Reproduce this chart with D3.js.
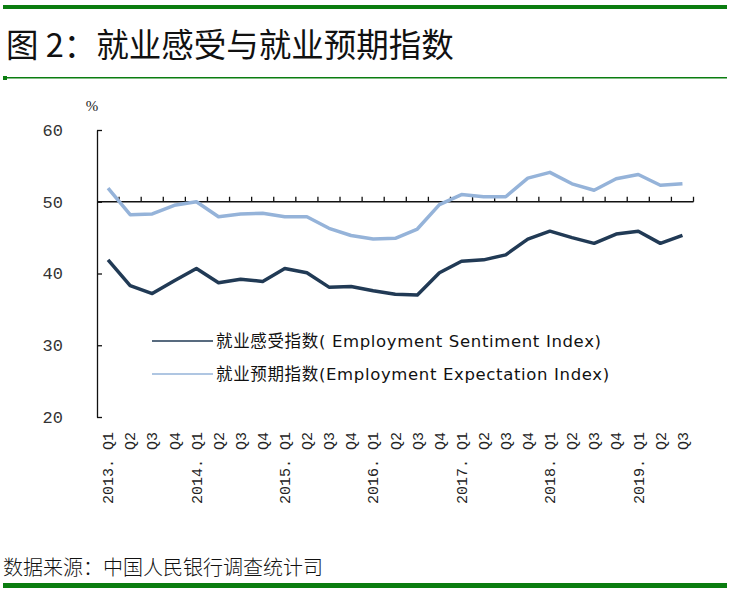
<!DOCTYPE html>
<html>
<head>
<meta charset="utf-8">
<script src="https://cdn.jsdelivr.net/npm/d3@7/dist/d3.min.js"></script>
<style>
  body { margin: 0; background: #fff; }
</style>
</head>
<body>
<svg id="chart" width="729" height="600"></svg>
<script>
// quarters 2013Q1 .. 2019Q3
const quarters = ['2013. Q1', 'Q2', 'Q3', 'Q4',
    '2014. Q1', 'Q2', 'Q3', 'Q4',
    '2015. Q1', 'Q2', 'Q3', 'Q4',
    '2016. Q1', 'Q2', 'Q3', 'Q4',
    '2017. Q1', 'Q2', 'Q3', 'Q4',
    '2018. Q1', 'Q2', 'Q3', 'Q4',
    '2019. Q1', 'Q2', 'Q3'];

// 就业感受指数
const sentiment = [41.9, 38.3, 37.2, 39.0, 40.7, 38.7, 39.2, 38.9, 40.7, 40.1, 38.1, 38.2, 37.6,
    37.1, 37.0, 40.1, 41.7, 41.9, 42.6, 44.8, 45.9, 45.0, 44.2, 45.5, 45.9, 44.2, 45.3];

// 就业预期指数
const expectation = [51.9, 48.2, 48.3, 49.5, 50.0, 47.9, 48.3, 48.4, 47.9, 47.9, 46.3, 45.3, 44.8,
    44.9, 46.2, 49.6, 51.0, 50.7, 50.7, 53.3, 54.1, 52.5, 51.6, 53.2, 53.8, 52.3, 52.5];

const yTicks = [20, 30, 40, 50, 60];

const seriesNames = ['就业感受指数( Employment Sentiment Index)', '就业预期指数(Employment Expectation Index)'];
const colors = ['#213a55', '#95b3d9'];

const svg = d3.select('#chart');
const green = '#0b7d10';

// frame lines
svg.append('rect').attr('x', 3).attr('y', 5).attr('width', 724).attr('height', 4).attr('fill', green);
svg.append('rect').attr('x', 3).attr('y', 77).attr('width', 724).attr('height', 1.5).attr('fill', green);
svg.append('rect').attr('x', 3).attr('y', 76).attr('width', 4).attr('height', 4).attr('fill', green);
svg.append('rect').attr('x', 3).attr('y', 583).attr('width', 724).attr('height', 5).attr('fill', green);

svg.append('text')
    .attr('x', 6)
    .attr('y', 57)
    .attr('font-family', '"Noto Sans CJK SC", sans-serif')
    .attr('font-size', 32.5)
    .attr('fill', '#111')
    .text('图 2：就业感受与就业预期指数');

svg.append('text')
    .attr('x', 3)
    .attr('y', 575)
    .attr('font-family', '"Noto Sans CJK SC", sans-serif')
    .attr('font-size', 20)
    .attr('font-weight', 300)
    .attr('fill', '#111')
    .text('数据来源：中国人民银行调查统计司');

const x = d3.scaleBand()
    .domain(d3.range(quarters.length))
    .range([97, 693.5])
    .padding(0);

const y = d3.scaleLinear()
    .domain([20, 60])
    .range([417, 130]);

// y axis, ticks pointing inward
const yAxis = svg.append('g')
    .attr('transform', 'translate(97,0)')
    .call(d3.axisLeft(y).tickValues(yTicks).tickSizeInner(-5).tickSizeOuter(0).tickPadding(34));
yAxis.selectAll('text')
    .attr('font-family', '"Liberation Mono", monospace')
    .attr('font-size', 17)
    .attr('fill', '#333');
yAxis.selectAll('line, path').attr('stroke', '#111').attr('stroke-width', 1.3);

svg.append('text')
    .attr('x', 92)
    .attr('y', 111)
    .attr('text-anchor', 'middle')
    .attr('font-family', '"Liberation Serif", serif')
    .attr('font-size', 15)
    .attr('fill', '#222')
    .text('%');

// x axis line at 50, boundary ticks upward
const bounds = d3.range(quarters.length + 1).map(i => i < quarters.length ? x(i) : x(i - 1) + x.bandwidth());
const xAxisG = svg.append('g').attr('transform', `translate(0,${y(50)})`);
xAxisG.append('line')
    .attr('x1', x.range()[0]).attr('x2', x.range()[1])
    .attr('stroke', '#111').attr('stroke-width', 1.3);
xAxisG.selectAll('.tick')
    .data(bounds.slice(1))
    .join('line')
    .attr('x1', d => d).attr('x2', d => d)
    .attr('y1', 0).attr('y2', -5)
    .attr('stroke', '#111').attr('stroke-width', 1.3);

// category labels at the bottom, rotated
const labels = svg.append('g')
    .attr('transform', 'translate(0,432)')
    .call(d3.axisBottom(x).tickSize(0).tickFormat(i => quarters[i]));
labels.select('.domain').remove();
labels.selectAll('text')
    .attr('transform', 'rotate(-90)')
    .attr('x', 0)
    .attr('y', 0)
    .attr('dy', '0.35em')
    .attr('text-anchor', 'end')
    .attr('font-family', '"Liberation Mono", monospace')
    .attr('font-size', 15)
    .attr('fill', '#222');

const line = d3.line()
    .x((d, i) => x(i) + x.bandwidth() / 2)
    .y(d => y(d));

[expectation, sentiment].forEach((s, k) => {
    svg.append('path')
        .datum(s)
        .attr('fill', 'none')
        .attr('stroke', colors[1 - k])
        .attr('stroke-width', 3.5)
        .attr('stroke-linejoin', 'round')
        .attr('d', line);
});

// legend
const legend = svg.append('g')
    .selectAll('g')
    .data(seriesNames)
    .join('g')
    .attr('transform', (d, i) => `translate(152,${341 + i * 33})`);

legend.append('line')
    .attr('x1', 0).attr('x2', 61)
    .attr('stroke', (d, i) => colors[i])
    .attr('stroke-width', 1.5);

legend.append('text')
    .attr('x', 64)
    .attr('dy', '0.35em')
    .attr('font-family', '"DejaVu Sans", "Noto Sans CJK SC", sans-serif')
    .attr('font-size', 16.5)
    .attr('letter-spacing', 0.65)
    .attr('fill', '#111')
    .text(d => d);
</script>
</body>
</html>
